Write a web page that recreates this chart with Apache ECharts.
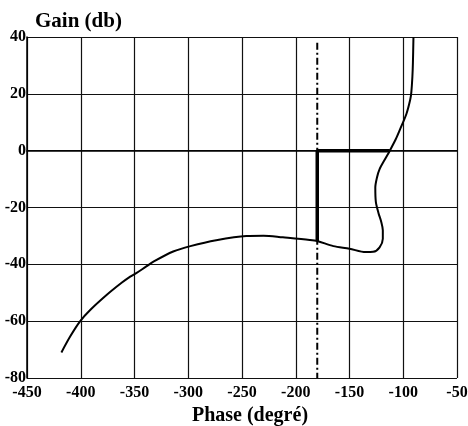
<!DOCTYPE html>
<html><head><meta charset="utf-8">
<script src="https://cdn.jsdelivr.net/npm/echarts@6/dist/echarts.min.js"></script>
<style>html,body{margin:0;padding:0;background:#fff}#c{width:468px;height:426px}</style>
</head><body><div id="c"></div>
<script>
// Nichols curve: [phase (deg), gain (dB)]
const curvePhase = [-418,-410,-400.5,-391,-376,-362,-354,-348,-340,-332,-314,-298,-274,-246,-230,-212,-187,-180,-165,-150,-135,-128,-122,-119,-119,-120.5,-123,-125.5,-126,-124.5,-122,-117,-112.5,-107,-103,-97,-93.5,-92.5,-91.5,-91,-90.5];
const curveGain  = [-71,-65.5,-60,-56,-50.8,-46.5,-44.3,-43,-41,-39,-35.5,-33.6,-31.5,-30,-29.9,-30.5,-31.4,-31.8,-33.6,-34.5,-35.7,-35.6,-34,-31,-28,-25,-22,-18,-13,-9.5,-6.5,-3,0,4,7.5,13,18,20.5,26,31,40];
// margin markers
const marginPhase = [-180,-180,-112.5];
const marginGain  = [-31.8,0,0];
// critical phase line
const critPhase = [-180,-180];
const critGain  = [38,-80];

const zip = (a,b)=>a.map((v,i)=>[v,b[i]]);
const font = '"Liberation Serif", "Times New Roman", serif';
const chart = echarts.init(document.getElementById('c'));
chart.setOption({
  animation:false,
  grid:{left:27,right:11,top:37,bottom:48,containLabel:false,outerBoundsMode:'none'},
  xAxis:{type:'value',min:-450,max:-50,interval:50,
    name:'Phase (degré)',nameLocation:'middle',nameGap:25,
    nameTextStyle:{fontFamily:font,fontWeight:'bold',fontSize:20,color:'#000',padding:[0,0,0,16]},
    axisLine:{show:true,lineStyle:{color:'#000',width:1.5}},axisTick:{show:false},
    axisLabel:{fontFamily:font,fontWeight:'bold',fontSize:16,color:'#000',margin:7},
    splitLine:{show:true,lineStyle:{color:'#111',width:1.2}}},
  yAxis:{type:'value',min:-80,max:40,interval:20,
    name:'Gain (db)',nameLocation:'end',nameGap:5,
    nameTextStyle:{fontFamily:font,fontWeight:'bold',fontSize:21,color:'#000',align:'left',padding:[0,0,0,8]},
    axisLine:{show:true,lineStyle:{color:'#000',width:1.5}},axisTick:{show:false},
    axisLabel:{fontFamily:font,fontWeight:'bold',fontSize:16,color:'#000',margin:1},
    splitLine:{show:true,lineStyle:{color:'#111',width:1.2}}},
  series:[
    {type:'line',data:zip(critPhase,critGain),symbol:'none',
     lineStyle:{color:'#000',width:2,type:[7,3,2,3]}},
    {type:'line',data:zip(curvePhase,curveGain),symbol:'none',smooth:0.3,
     lineStyle:{color:'#000',width:2}},
    {type:'line',data:zip(marginPhase,marginGain),symbol:'none',
     lineStyle:{color:'#000',width:3.5}}
  ]
});
</script></body></html>
